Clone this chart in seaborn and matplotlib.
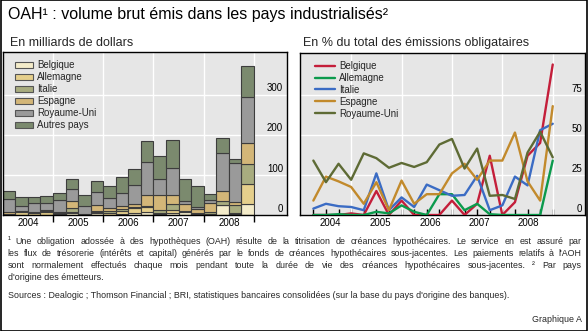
import numpy as np
import pandas as pd
import matplotlib
matplotlib.use("Agg")
import matplotlib.pyplot as plt
import seaborn as sns
from matplotlib import transforms
from matplotlib.patches import Patch, Rectangle
from matplotlib.lines import Line2D

# ---------------- data ----------------
quarters = ["2004T1", "2004T2", "2004T3", "2004T4",
            "2005T1", "2005T2", "2005T3", "2005T4",
            "2006T1", "2006T2", "2006T3", "2006T4",
            "2007T1", "2007T2", "2007T3", "2007T4",
            "2008T1", "2008T2", "2008T3", "2008T4"]
years = ["2004", "2005", "2006", "2007", "2008"]

# Left panel: gross issuance, USD bn (stacked, bottom to top)
vol_belgique = [0, 0, 0, 0, 0, 4, 0, 4, 0, 2, 4, 7, 2, 6, 8, 0, 2, 24, 2, 28]
vol_allemagne = [2, 8, 4, 7, 2, 3, 0, 3, 5, 7, 13, 13, 4, 7, 1, 2, 1, 0, 3, 50]
vol_italie = [1, 1, 1, 2, 2, 11, 1, 4, 6, 6, 4, 3, 6, 14, 2, 2, 5, 12, 20, 50]
vol_espagne = [5, 2, 3, 3, 3, 17, 1, 14, 6, 8, 6, 27, 38, 23, 17, 11, 22, 24, 8, 52]
vol_royaume_uni = [32, 12, 21, 17, 30, 29, 20, 33, 25, 31, 48, 83, 39, 67, 8, 6, 8, 94, 96, 113]
vol_autres = [20, 21, 17, 19, 18, 26, 27, 26, 30, 41, 39, 52, 58, 70, 53, 51, 14, 38, 10, 79]

# Right panel: % of total bond issuance
pct_belgique = [0, 0, 0, 1, 0, 15, 0, 9, 0, 0, 0, 9, 0, 7, 37, 0, 8, 37, 45, 94]
pct_allemagne = [0, 0, 0.5, 0, 0, 2, 1, 6, 2, 0, 13, 13, 3, 7, 0.5, 0, 0, 0, 0, 34]
pct_italie = [4, 7, 5.5, 5, 3, 26, 3, 11, 5, 19, 15.5, 12, 12.5, 24.5, 3, 6, 24, 18.5, 53, 57]
pct_espagne = [9, 24, 21, 17.5, 7, 20.5, 3, 21.5, 7, 13, 13, 26, 32, 22, 34, 34, 51.5, 21, 9, 68]
pct_royaume_uni = [34, 20.5, 32, 22, 38.5, 35.5, 29.5, 32.5, 30, 33, 44, 47.5, 29, 41.5, 12, 12.5, 10, 39, 52, 36]

left_ticks = [0, 100, 200, 300]
right_ticks = [0, 25, 50, 75]

bar_names = ["Belgique", "Allemagne", "Italie", "Espagne", "Royaume-Uni", "Autres pays"]
bar_series = [vol_belgique, vol_allemagne, vol_italie, vol_espagne, vol_royaume_uni, vol_autres]
bar_colors = ["#f4ecca", "#e5cf8c", "#a8ac7f", "#d3b678", "#9a9a9a", "#7b8a6e"]

line_names = ["Belgique", "Allemagne", "Italie", "Espagne", "Royaume-Uni"]
line_series = [pct_belgique, pct_allemagne, pct_italie, pct_espagne, pct_royaume_uni]
line_colors = ["#c41e3a", "#0b9a4c", "#3b6cc4", "#c28a2c", "#5e6b35"]

# ---------------- style ----------------
sns.set_theme(style="darkgrid", rc={
    "axes.facecolor": "#e6e6e6",
    "grid.color": "white",
    "grid.linewidth": 1.0,
    "axes.edgecolor": "black",
    "axes.linewidth": 1.0,
})
plt.rcParams["font.family"] = ["Liberation Sans", "DejaVu Sans"]

W, H = 588, 331
fig = plt.figure(figsize=(W / 100, H / 100), dpi=100)
fig.patch.set_facecolor("white")

def fx(px):
    return px / W

def fy(py):
    return 1 - py / H

axL = fig.add_axes([fx(2.7), fy(215), fx(286.7) - fx(2.7), fy(52) - fy(215)])
axR = fig.add_axes([fx(300), fy(215), fx(585) - fx(300), fy(52.5) - fy(215)])

for ax in (axL, axR):
    for s in ax.spines.values():
        s.set_visible(True)
        s.set_color("black")
        s.set_linewidth(1.0)

# ---------------- left: stacked bars ----------------
x = np.arange(len(quarters))
bottom = np.zeros(len(quarters))
for name, vals, col in zip(bar_names, bar_series, bar_colors):
    vals = np.asarray(vals, dtype=float)
    axL.bar(x, vals, bottom=bottom, width=1.0, color=col, edgecolor="#3d3d3d",
            linewidth=0.8, label=name, zorder=2)
    bottom += vals

axL.set_xlim(-0.5, 22.1)
axL.set_ylim(0, 406)
axL.set_yticks([100, 200, 300])
axL.tick_params(axis="y", length=0, labelleft=False, labelright=False)
axL.set_xticks([3.5, 7.5, 11.5, 15.5, 19.5])
axL.tick_params(axis="x", which="major", direction="out", length=5, width=1,
                color="black", labelbottom=False, bottom=True)
axL.set_xticks([1.5, 5.5, 9.5, 13.5, 17.5], labels=years, minor=True)
axL.tick_params(axis="x", which="minor", length=0, pad=2.5, labelsize=7, colors="black")
axL.grid(axis="both", which="major", color="white", linewidth=1.0)
axL.set_xlabel("")
axL.set_ylabel("")

offs = transforms.ScaledTranslation(0, 6.3 / 100, fig.dpi_scale_trans)
trL = transforms.blended_transform_factory(axL.transAxes, axL.transData) + offs
for v in left_ticks:
    axL.text(1 - 3.7 / 284, v, str(v), transform=trL, ha="right", va="center",
             fontsize=7, color="black")

handles = [Patch(facecolor=c, edgecolor="#555555", linewidth=0.8, label=n)
           for n, c in zip(bar_names, bar_colors)]
legL = axL.legend(handles=handles, loc="upper left", bbox_to_anchor=(0.03, 0.972),
                  frameon=False, fontsize=7, handlelength=1.85, handleheight=0.65,
                  handletextpad=0.45, labelspacing=0.2, borderpad=0.4, borderaxespad=0)

# ---------------- right: lines ----------------
rows = []
for name, vals in zip(line_names, line_series):
    for i, v in enumerate(vals):
        rows.append({"idx": i, "val": v, "pays": name})
df = pd.DataFrame(rows)
sns.lineplot(data=df, x="idx", y="val", hue="pays", hue_order=line_names,
             palette=dict(zip(line_names, line_colors)), linewidth=1.7,
             legend=False, ax=axR, zorder=3)
axR.set_xlim(-1.06, 21.56)
axR.set_ylim(0, 101.5)
axR.set_yticks([25, 50, 75])
axR.tick_params(axis="y", length=0, labelleft=False, labelright=False)
axR.set_xticks(x)
axR.tick_params(axis="x", which="major", direction="in", length=4.3, width=1,
                color="black", labelbottom=False, bottom=True)
axR.set_xticks([1.33, 5.3, 9.25, 13.2, 17.05], labels=years, minor=True)
axR.tick_params(axis="x", which="minor", length=0, pad=2.5, labelsize=7, colors="black")
axR.grid(axis="x", visible=False)
axR.grid(axis="y", which="major", color="white", linewidth=1.0)
for gx in [3, 7, 11, 15, 19]:
    axR.axvline(gx, color="white", linewidth=1.0, zorder=0.6)
axR.set_xlabel("")
axR.set_ylabel("")

trR = transforms.blended_transform_factory(axR.transAxes, axR.transData) + offs
for v in right_ticks:
    axR.text(1 - 3.0 / 285, v, str(v), transform=trR, ha="right", va="center",
             fontsize=7, color="black")

lhandles = [Line2D([0], [0], color=c, linewidth=1.7, label=n)
            for n, c in zip(line_names, line_colors)]
legR = axR.legend(handles=lhandles, loc="upper left", bbox_to_anchor=(0.039, 0.972),
                  frameon=False, fontsize=7, handlelength=2.1, handleheight=0.65,
                  handletextpad=0.35, labelspacing=0.2, borderpad=0.4, borderaxespad=0)

# ---------------- texts ----------------
fig.text(fx(8), fy(14), "OAH¹ : volume brut émis dans les pays industrialisés²",
         fontsize=11.5, ha="left", va="center", color="black")
fig.text(fx(10), fy(43), "En milliards de dollars", fontsize=9, ha="left", va="center")
fig.text(fx(303), fy(43), "En % du total des émissions obligataires", fontsize=9,
         ha="left", va="center")

renderer = fig.canvas.get_renderer()
FN = 6.4

def justify(line, ypx, x0=7.5, x1=581.5, size=FN):
    words = line.split()
    texts = [fig.text(0, fy(ypx), w, fontsize=size, ha="left", va="center") for w in words]
    widths = [t.get_window_extent(renderer=renderer).width for t in texts]
    gap = (x1 - x0 - sum(widths)) / max(len(words) - 1, 1)
    pos = x0
    for t, w in zip(texts, widths):
        t.set_x(fx(pos))
        pos += w + gap

justify("¹ Une obligation adossée à des hypothèques (OAH) résulte de la titrisation de créances hypothécaires. Le service en est assuré par", 241)
justify("les flux de trésorerie (intérêts et capital) générés par le fonds de créances hypothécaires sous-jacentes. Les paiements relatifs à l'AOH", 253.3)
justify("sont normalement effectués chaque mois pendant toute la durée de vie des créances hypothécaires sous-jacentes.  ² Par pays", 265.7)
fig.text(fx(7.5), fy(277.7), "d'origine des émetteurs.", fontsize=FN, ha="left", va="center")
fig.text(fx(7.5), fy(295), "Sources : Dealogic ; Thomson Financial ; BRI, statistiques bancaires consolidées (sur la base du pays d'origine des banques).",
         fontsize=FN, ha="left", va="center")
fig.text(fx(581.5), fy(319), "Graphique A", fontsize=FN, ha="right", va="center")

fig.patches.append(Rectangle((0.001, 0.0015), 0.998, 0.997, transform=fig.transFigure,
                             fill=False, edgecolor="black", linewidth=1.2))

fig.savefig("out.png", dpi=100, facecolor="white")
